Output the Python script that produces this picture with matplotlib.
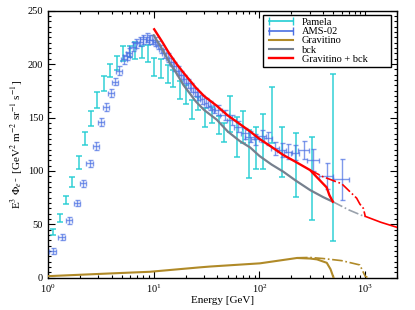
import numpy as np
import matplotlib
matplotlib.use("Agg")
import matplotlib.pyplot as plt
from matplotlib.lines import Line2D
from matplotlib.ticker import MultipleLocator, LogLocator, NullFormatter

plt.rcParams['font.family'] = ['Liberation Serif', 'DejaVu Serif']
plt.rcParams['mathtext.fontset'] = 'stix'

# Pamela electron flux (E^3 * flux)
pamela_e = [1.12, 1.30, 1.48, 1.69, 1.95, 2.22, 2.55, 2.93, 3.37, 3.87, 4.45, 5.14,
            5.93, 6.7, 7.7, 8.8, 10.1, 11.7, 13.5, 15.3, 17.7, 20.2, 23.2, 26.5,
            30.5, 35.4, 41, 46, 53, 61, 70, 80, 92.6, 109, 132, 165, 220, 315, 495]
pamela_y = [42.8, 55.6, 72.7, 89.3, 107.7, 130.5, 149, 166, 181.5, 194, 201, 209.5,
            212, 213, 211, 210, 197, 196, 190.8, 186.3, 175.7, 171.7, 157.6, 163.3,
            149.8, 152.3, 143, 136, 153, 131.7, 141, 115.7, 121.5, 127.7, 152.6, 117.7,
            105.8, 92.7, 112.5]
pamela_err = [2.8, 3.7, 3.9, 4.8, 6, 6, 7, 7.5, 7, 5.8, 6.5, 7,
              5, 7.8, 5.5, 7.8, 8.6, 8.6, 8.6, 8, 8.7, 8.9, 8.6, 6.2,
              8.9, 7.8, 8.4, 9, 17, 19, 15, 22.6, 20, 26, 26, 23.7,
              30, 38.7, 78]

# AMS-02 electron flux
ams_e = [1.11, 1.35, 1.59, 1.88, 2.16, 2.48, 2.85, 3.17, 3.54, 3.94, 4.33, 4.73,
         5.25, 5.55, 5.88, 6.33, 6.8, 7.4, 7.96, 8.6, 9.1, 9.6, 10.3, 11.0, 11.8,
         12.6, 13.5, 14.5, 15.6, 16.8, 18.1, 19.5, 21.0, 22.7, 24.5, 26.5, 28.7,
         31.1, 33.8, 36.8, 40.9, 47, 54.6, 63, 73, 81, 91, 105, 121, 140, 162,
         188, 216, 264, 323, 434, 600]
ams_y = [25, 38.4, 53.7, 70.2, 88.4, 107, 123.3, 146, 160, 173, 183.5, 193.8,
         204.5, 207.6, 210.7, 216.3, 219.5, 221, 223.2, 225, 223, 223, 221, 218, 214,
         210, 206, 202, 198, 194, 190, 186, 182, 178, 174, 170, 167,
         164, 161, 158, 157, 152.3, 147.7, 141.4, 135.2, 132, 129.6, 132.7, 130.5,
         121.2, 119.6, 118, 117, 119.6, 110.2, 95.2, 92.1]
ams_yerr = [3, 3, 3, 3, 3, 3.5, 3.5, 3.5, 3.5, 3.5, 3.5, 4,
            4, 4, 4, 4, 4, 4, 4, 4, 4, 4, 4, 4, 4,
            4, 4, 4, 4, 4, 4, 4, 4, 4, 4, 4, 4,
            4, 4, 4, 4.5, 4.5, 4.5, 5, 5, 5, 5, 5.5, 6,
            6, 6.5, 7, 7, 8, 10, 12, 19.5]
ams_xfrac = [0.07] * 22 + [0.04] * 18 + [0.09] * 13 + [0.12, 0.12, 0.15, 0.17]

# background
bck_e = [10, 12, 14, 16.5, 19.1, 25, 30, 39.4, 50, 65, 81.5, 100, 130, 168, 220,
         301, 400, 494]
bck_y = [227, 214, 202, 191, 180.4, 165, 157, 148, 137, 128, 122, 114, 106, 99.3,
         91, 82.1, 75.5, 71.2]
bck_tail_e = [494, 700, 960, 1000]
bck_tail_y = [71.2, 63.5, 57.8, 57.2]

# gravitino + background
tot_e = [10.1, 12, 14, 16.5, 19.1, 25, 30, 39.4, 50, 65, 81.5, 100, 130, 168, 220,
         301, 400, 432, 458, 494]
tot_y = [232.6, 221, 210, 200, 192, 178, 170, 161, 152, 144, 137, 130, 122.5, 114.9,
         108.5, 100.8, 88, 84.6, 77.4, 71.2]
tot2_e = [301, 400, 600, 830, 890, 960, 1000]
tot2_y = [100.8, 94.5, 88, 74.5, 69, 65, 57.8]
tot_tail_e = [1000, 1400, 2000]
tot_tail_y = [57.5, 52, 47.2]

# gravitino signal
grav_e = [1, 2, 4, 9.2, 27, 34, 101, 226, 300, 350, 433, 470, 500]
grav_y = [1.5, 2.8, 4.1, 5.6, 9.7, 10.5, 13.5, 18.5, 18, 17.2, 14, 8, 0.5]
grav2_e = [226, 300, 400, 600, 890, 960, 1000, 1050]
grav2_y = [18.7, 19, 18, 16, 12, 5, 1.5, 0.3]

c_pam = '#22cdd3'
c_ams = '#4a6fe3'
c_grav = '#b08a28'
c_bck = '#76808e'
c_red = '#ff0000'

fig = plt.figure(figsize=(4.15, 3.10), dpi=100)
ax = fig.add_axes([0.1157, 0.104, 0.841, 0.8615])

ax.errorbar(pamela_e, pamela_y, yerr=pamela_err, fmt='none', ecolor=c_pam,
            elinewidth=1.2, capsize=2, capthick=1.2, alpha=0.85, zorder=2)
ams_e_arr = np.array(ams_e)
xerr = np.array(ams_xfrac) * ams_e_arr
ax.errorbar(ams_e, ams_y, yerr=ams_yerr, xerr=xerr, fmt='none',
            ecolor=c_ams, elinewidth=1.0, capsize=1.8, capthick=1.0, alpha=0.7, zorder=3)

ax.plot(grav_e, grav_y, color=c_grav, lw=1.5, zorder=4)
ax.plot(grav2_e, grav2_y, color=c_grav, lw=1.2, ls='-.', zorder=4)
ax.plot(bck_e, bck_y, color=c_bck, lw=1.6, zorder=4)
ax.plot(bck_tail_e, bck_tail_y, color='#9aa2ac', lw=1.2, ls='-.', zorder=4)
ax.plot(tot_e, tot_y, color=c_red, lw=1.7, zorder=5)
ax.plot(tot2_e, tot2_y, color=c_red, lw=1.2, ls='-.', zorder=5)
ax.plot(tot_tail_e, tot_tail_y, color=c_red, lw=1.2, zorder=5)

ax.set_xscale('log')
ax.set_xlim(1, 2000)
ax.set_ylim(0, 250)
ax.yaxis.set_major_locator(MultipleLocator(50))
ax.yaxis.set_minor_locator(MultipleLocator(5))
ax.xaxis.set_minor_locator(LogLocator(base=10, subs=np.arange(2, 10)))
ax.xaxis.set_minor_formatter(NullFormatter())
ax.tick_params(which='both', direction='in', top=True, right=True, labelsize=7.5,
               width=0.8)
ax.tick_params(which='major', length=5)
ax.tick_params(which='minor', length=2.5)
for s in ax.spines.values():
    s.set_linewidth(1.0)

ax.set_xlabel('Energy [GeV]', fontsize=8, labelpad=1)
ax.set_ylabel(r'E$^3$ $\Phi_{e^-}$ [GeV$^2$ m$^{-2}$ sr$^{-1}$ s$^{-1}$]',
              fontsize=8, labelpad=2)

handles = [
    Line2D([], [], color=c_pam, marker='|', markersize=6, lw=1.2),
    Line2D([], [], color=c_ams, marker='|', markersize=6, lw=1.2),
    Line2D([], [], color=c_grav, lw=1.5),
    Line2D([], [], color=c_bck, lw=1.5),
    Line2D([], [], color=c_red, lw=1.7),
]
labels = ['Pamela', 'AMS-02', 'Gravitino', 'bck', 'Gravitino + bck']
# legend box placed in axes fraction: left, bottom, width, height
leg = ax.legend(handles, labels, loc='upper left', fontsize=7.5, numpoints=2,
                handlelength=2.9, labelspacing=0.0, borderpad=0.25,
                handletextpad=0.55, fancybox=False, framealpha=1,
                mode='expand', borderaxespad=0,
                bbox_to_anchor=(0.616, 0.787, 0.367, 0.197))
leg.get_frame().set_edgecolor('black')
leg.get_frame().set_linewidth(1.0)

fig.savefig('out.png', dpi=100)
